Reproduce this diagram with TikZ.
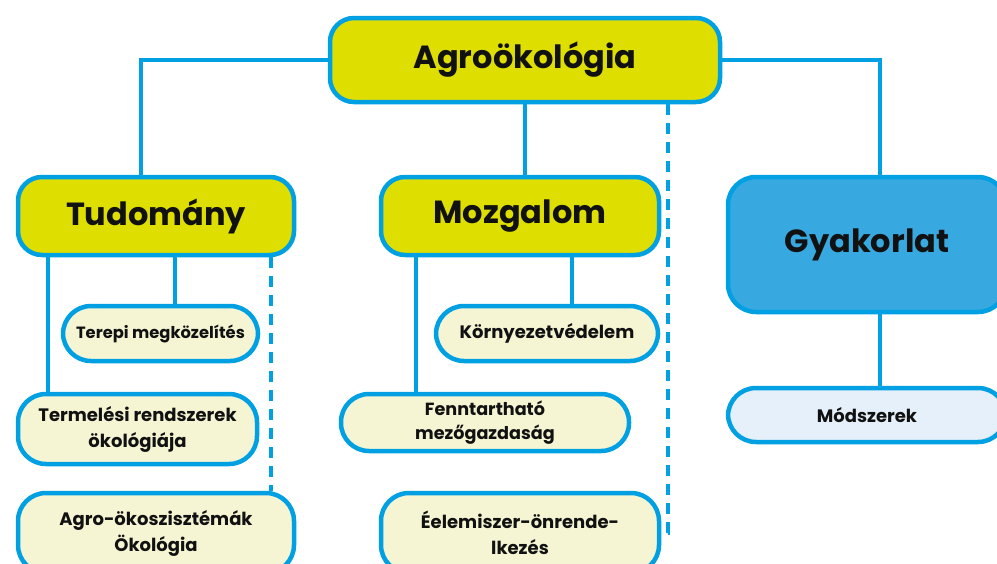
\documentclass[tikz,border=0pt]{standalone}
\usepackage{fontspec}
\setmainfont{Poppins}
\usetikzlibrary{backgrounds}
\definecolor{bordc}{RGB}{0,160,227}
\definecolor{yelc}{RGB}{222,222,0}
\definecolor{creamc}{RGB}{245,245,212}
\definecolor{gyakc}{RGB}{56,168,224}
\definecolor{modc}{RGB}{230,240,250}
\definecolor{txtc}{RGB}{17,17,17}
\begin{document}
\begin{tikzpicture}[x=1pt,y=-1pt,
  box/.style={draw=bordc, line width=4.5pt, rounded corners=24pt, inner sep=0pt, text=txtc, align=center},
  mainbox/.style={box, fill=yelc, font=\fontsize{32}{38}\selectfont\bfseries},
  subbox/.style={box, fill=creamc, rounded corners=28pt, font=\fontsize{18}{26}\selectfont\bfseries},
  conn/.style={draw=bordc, line width=4pt},
  dconn/.style={conn, dash pattern=on 11pt off 8pt}
]
\useasboundingbox (0,0) rectangle (997,563);
\node[mainbox, minimum width=390, minimum height=84] (agro) at (525,60) {Agroökológia};
\node[mainbox, minimum width=276, minimum height=78] (tud) at (156,216) {Tudomány};
\node[mainbox, minimum width=278, minimum height=78] (moz) at (520,216) {Mozgalom};
\node[mainbox, fill=gyakc, rounded corners=28pt, minimum width=278, minimum height=135] (gyak) at (867,244.5) {Gyakorlat};
\node[subbox, minimum width=195, minimum height=55, font=\fontsize{16.3}{24}\selectfont\bfseries] (terepi) at (160.5,333.5) {Terepi megközelítés};
\node[subbox, minimum width=239, minimum height=70] (term) at (137.5,429) {Termelési rendszerek\\ökológiája};
\node[subbox, minimum width=276, minimum height=80] (agroeko) at (156,533) {Agro-ökoszisztémák\\Ökológia};
\node[subbox, minimum width=222, minimum height=55] (korny) at (547,333.5) {Környezetvédelem};
\node[subbox, minimum width=288, minimum height=57, font=\fontsize{17.6}{24}\selectfont\bfseries] (fennt) at (485,422.5) {Fenntartható\\mezőgazdaság};
\node[subbox, minimum width=278, minimum height=80] (elel) at (520,533) {Éelemiszer-önrende-\\lkezés};
\node[subbox, fill=modc, minimum width=278, minimum height=54] (modsz) at (867,415) {Módszerek};
\begin{scope}[on background layer]
  \draw[conn] (agro.west) -| ([xshift=-15pt]tud.north);
  \draw[conn] (agro.east) -| ([xshift=13pt]gyak.north);
  \draw[conn] (agro.south) -- (agro.south |- moz.north);
  \draw[dconn] ([xshift=143pt]agro.south) |- (elel.east);
  \draw[conn] ([xshift=-108pt]tud.south) coordinate (t1) -- (t1 |- term.north);
  \draw[conn] ([xshift=19pt]tud.south) coordinate (t2) -- (t2 |- terepi.north);
  \draw[dconn] ([xshift=115pt]tud.south) coordinate (t3) -- (t3 |- agroeko.north);
  \draw[conn] ([xshift=-104pt]moz.south) coordinate (m1) -- (m1 |- fennt.north);
  \draw[conn] ([xshift=52pt]moz.south) coordinate (m2) -- (m2 |- korny.north);
  \draw[conn] ([xshift=13pt]gyak.south) coordinate (g1) -- (g1 |- modsz.north);
\end{scope}
\end{tikzpicture}
\end{document}
